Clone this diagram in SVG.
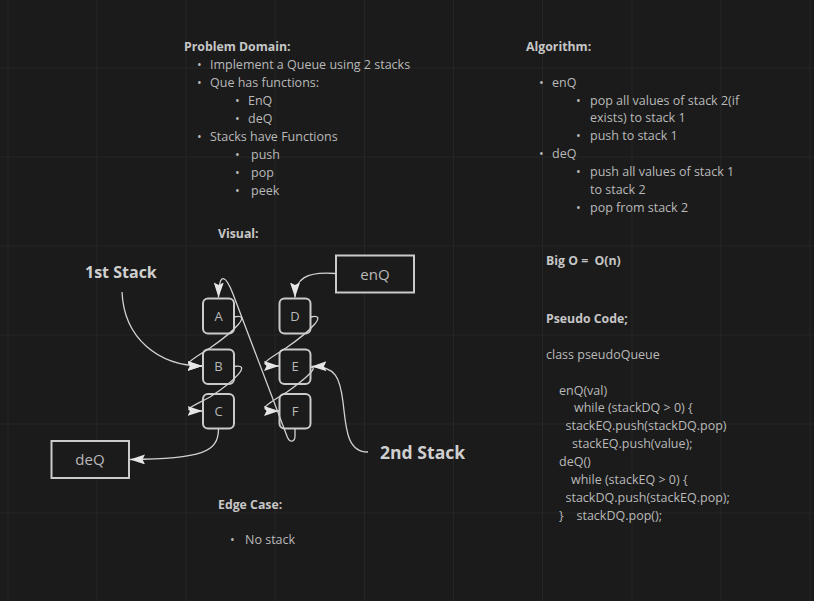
<svg xmlns="http://www.w3.org/2000/svg" width="814" height="601" viewBox="0 0 814 601">
<defs>
<style>
.t{font-family:"Open Sans","Liberation Sans",sans-serif;font-size:12.5px;fill:#b9b9b9}
.b{font-family:"Open Sans","Liberation Sans",sans-serif;font-size:12.3px;font-weight:bold;fill:#c6c6c6}
.big{font-family:"Open Sans","Liberation Sans",sans-serif;font-weight:bold;fill:#cfcfcf}
.node rect{fill:#1b1b1b;stroke:#cacaca;stroke-width:2}
.node text{font-family:"Open Sans","Liberation Sans",sans-serif;font-size:13px;fill:#b9b9b9;text-anchor:middle}
.box text{font-size:15px}
.grid line{stroke:#262626;stroke-width:1}
.conn path{fill:none;stroke:#d2d2d2;stroke-width:1.3}
</style>
<marker id="ah" markerUnits="userSpaceOnUse" markerWidth="16" markerHeight="10" refX="15" refY="5" orient="auto">
<path d="M0,0 L15,5 L0,10 L2.5,5 Z" fill="#e6e6e6"/>
</marker>
</defs>
<rect width="814" height="601" fill="#1b1b1b"/>
<g class="grid">
<line x1="8" y1="0" x2="8" y2="601"/>
<line x1="97" y1="0" x2="97" y2="601"/>
<line x1="186" y1="0" x2="186" y2="601"/>
<line x1="275" y1="0" x2="275" y2="601"/>
<line x1="364.5" y1="0" x2="364.5" y2="601"/>
<line x1="453.5" y1="0" x2="453.5" y2="601"/>
<line x1="542.5" y1="0" x2="542.5" y2="601"/>
<line x1="632" y1="0" x2="632" y2="601"/>
<line x1="721" y1="0" x2="721" y2="601"/>
<line x1="810" y1="0" x2="810" y2="601"/>
<line x1="0" y1="68" x2="814" y2="68"/>
<line x1="0" y1="157" x2="814" y2="157"/>
<line x1="0" y1="246" x2="814" y2="246"/>
<line x1="0" y1="335" x2="814" y2="335"/>
<line x1="0" y1="424" x2="814" y2="424"/>
<line x1="0" y1="513" x2="814" y2="513"/>
</g>
<g id="problem-domain">
<text class="b" x="184" y="51">Problem Domain:</text>
<text class="t" x="197" y="69">•</text><text class="t" x="210" y="69">Implement a Queue using 2 stacks</text>
<text class="t" x="197" y="87">•</text><text class="t" x="210" y="87">Que has functions:</text>
<text class="t" x="235" y="105">•</text><text class="t" x="248" y="105">EnQ</text>
<text class="t" x="235" y="122.5">•</text><text class="t" x="248" y="122.5">deQ</text>
<text class="t" x="197" y="140.5">•</text><text class="t" x="210" y="140.5">Stacks have Functions</text>
<text class="t" x="235" y="158.5">•</text><text class="t" x="251" y="158.5">push</text>
<text class="t" x="235" y="176.5">•</text><text class="t" x="251" y="176.5">pop</text>
<text class="t" x="235" y="194.5">•</text><text class="t" x="251" y="194.5">peek</text>
</g>
<g id="algorithm">
<text class="b" x="526" y="51">Algorithm:</text>
<text class="t" x="539" y="86.5">•</text><text class="t" x="552" y="86.5">enQ</text>
<text class="t" x="576" y="104.5">•</text><text class="t" x="590" y="104.5">pop all values of stack 2(if</text>
<text class="t" x="590" y="122">exists) to stack 1</text>
<text class="t" x="576" y="140">•</text><text class="t" x="590" y="140">push to stack 1</text>
<text class="t" x="539" y="158">•</text><text class="t" x="552" y="158">deQ</text>
<text class="t" x="576" y="176">•</text><text class="t" x="590" y="176">push all values of stack 1</text>
<text class="t" x="590" y="193.5">to stack 2</text>
<text class="t" x="576" y="211.5">•</text><text class="t" x="590" y="211.5">pop from stack 2</text>
</g>
<g id="bigo">
<text class="b" x="546" y="265">Big O =&#160; O(n)</text>
</g>
<g id="pseudo">
<text class="b" x="546" y="323">Pseudo Code;</text>
<text class="t" x="546" y="358.5">class pseudoQueue</text>
<text class="t" x="559" y="394.5">enQ(val)</text>
<text class="t" x="574" y="412.4">while (stackDQ &gt; 0) {</text>
<text class="t" x="565.5" y="430.3">stackEQ.push(stackDQ.pop)</text>
<text class="t" x="572" y="448.2">stackEQ.push(value);</text>
<text class="t" x="559" y="466.1">deQ()</text>
<text class="t" x="571" y="484">while (stackEQ &gt; 0) {</text>
<text class="t" x="565.5" y="501.9">stackDQ.push(stackEQ.pop);</text>
<text class="t" x="559" y="519.8">}</text><text class="t" x="576.5" y="519.8">stackDQ.pop();</text>
</g>
<g id="visual-title"><text class="b" x="218" y="238">Visual:</text></g>
<g id="edge-case">
<text class="b" x="218" y="508.5">Edge Case:</text>
<text class="t" x="230" y="543.5">•</text><text class="t" x="245" y="543.5">No stack</text>
</g>
<g id="label-1st"><text class="big" x="85" y="277.5" font-size="16">1st Stack</text></g>
<g id="label-2nd"><text class="big" x="380" y="458.5" font-size="17.6">2nd Stack</text></g>
<g id="node-A" class="node"><rect x="203" y="298.5" width="31" height="35" rx="5"/><text x="218.5" y="320.5">A</text></g>
<g id="node-B" class="node"><rect x="203" y="349.5" width="31" height="34.5" rx="5"/><text x="218.5" y="371">B</text></g>
<g id="node-C" class="node"><rect x="203" y="394" width="31" height="34.5" rx="5"/><text x="218.5" y="415.5">C</text></g>
<g id="node-D" class="node"><rect x="279.5" y="298.5" width="31" height="35" rx="5"/><text x="295" y="320.5">D</text></g>
<g id="node-E" class="node"><rect x="279.5" y="349.5" width="31" height="34.5" rx="5"/><text x="295" y="371">E</text></g>
<g id="node-F" class="node"><rect x="279.5" y="394" width="31" height="34.5" rx="5"/><text x="295" y="415.5">F</text></g>
<g id="node-enQ" class="node box"><rect x="336" y="255.5" width="78" height="37" rx="0"/><text x="375" y="279.5">enQ</text></g>
<g id="node-deQ" class="node box"><rect x="51.5" y="441" width="77.5" height="37" rx="0"/><text x="90" y="465">deQ</text></g>
<g class="conn">
<path d="M336,273.5 C306,271 295,279 295,297.5" marker-end="url(#ah)"/>
<path d="M234,317 C252,313 236,330 210,348 C190,361 178,366 202.5,366" marker-end="url(#ah)"/>
<path d="M234,366.5 C252,363 236,380 210,397 C190,408 178,411 202.5,411" marker-end="url(#ah)"/>
<path d="M310.5,317 C328,313 312,330 286,348 C266,361 254,366 279,366" marker-end="url(#ah)"/>
<path d="M311,367 C319,367 304,380 287,392 C266,405 254,411 279,411" marker-end="url(#ah)"/>
<path d="M368,452 C346,452 346,426 343,402 C340,378 336,366 311.5,366.5" marker-end="url(#ah)"/>
<path d="M218.5,429 C218.5,452 202,459 130,459.5" marker-end="url(#ah)"/>
<path d="M122,292 C124,338 158,366 202.5,366" marker-end="url(#ah)"/>
<path d="M295,429 L295,436 C295,442 290,443 287.5,437.5 L233,294 C226,276 219,270 218.5,297.5" marker-end="url(#ah)"/>
</g>
</svg>
